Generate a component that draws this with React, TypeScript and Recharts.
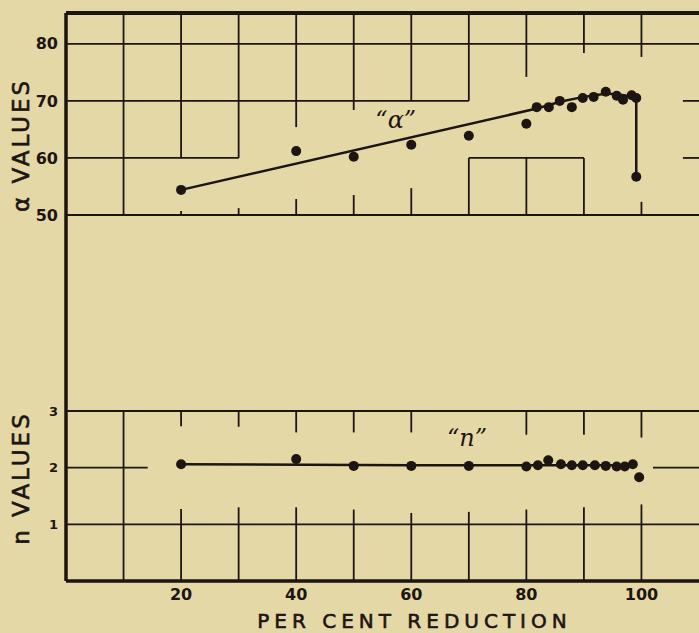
import React from 'react';
import { ComposedChart, Line, Scatter, XAxis, YAxis, ReferenceLine, ReferenceDot } from 'recharts';

const xTicks = [20, 40, 60, 80, 100];
const aTicks = [50, 60, 70, 80];
const nTicks = [1, 2, 3];

// measured "a" values (per cent reduction vs a)
const aPoints = [
  { x: 20, a: 54.4 }, { x: 40, a: 61.2 }, { x: 50, a: 60.2 }, { x: 60, a: 62.3 },
  { x: 70, a: 63.9 }, { x: 80, a: 66.0 }, { x: 81.8, a: 68.9 }, { x: 83.9, a: 68.9 },
  { x: 85.8, a: 70.0 }, { x: 87.9, a: 68.9 }, { x: 89.8, a: 70.5 }, { x: 91.7, a: 70.7 },
  { x: 93.8, a: 71.6 }, { x: 95.7, a: 70.9 }, { x: 96.8, a: 70.2 }, { x: 98.3, a: 71.0 },
  { x: 99.1, a: 70.5 }, { x: 99.1, a: 56.7 },
];

// drawn curve through the "a" values
const aCurve = [
  { x: 20, a: 54.4 }, { x: 82, a: 68.7 }, { x: 86, a: 69.9 }, { x: 90, a: 70.7 },
  { x: 94, a: 71.3 }, { x: 97, a: 71.0 }, { x: 99.1, a: 70.5 }, { x: 99.1, a: 56.7 },
];

// measured "n" values
const nPoints = [
  { x: 20, n: 2.06 }, { x: 40, n: 2.15 }, { x: 50, n: 2.03 }, { x: 60, n: 2.03 },
  { x: 70, n: 2.03 }, { x: 80, n: 2.02 }, { x: 82, n: 2.04 }, { x: 83.8, n: 2.13 },
  { x: 86, n: 2.06 }, { x: 87.9, n: 2.04 }, { x: 89.8, n: 2.04 }, { x: 91.9, n: 2.04 },
  { x: 93.8, n: 2.03 }, { x: 95.7, n: 2.02 }, { x: 97.1, n: 2.02 }, { x: 98.5, n: 2.06 },
  { x: 99.6, n: 1.83 },
];

const nCurve = [{ x: 20, n: 2.06 }, { x: 60, n: 2.04 }, { x: 98.5, n: 2.04 }];

// graph paper, broken lines: [value, from, to]
const aGridH = [[80, 0, 110], [70, 0, 70], [70, 107.2, 110], [60, 0, 30], [60, 70, 90], [60, 107.2, 110]];
const aGridV = [
  [10, 50, 85.4], [20, 60, 85.4], [20, 50, 50.7], [30, 60, 85.4], [30, 50, 51.2],
  [40, 65.4, 85.4], [40, 50, 52.8], [50, 68.4, 85.4], [50, 50, 53.5], [60, 70, 85.4],
  [60, 50, 54.7], [70, 70, 85.4], [70, 50, 60], [80, 74.2, 85.4], [80, 50, 60],
  [90, 78.4, 85.4], [90, 50, 60], [100, 77.7, 85.4], [100, 50, 52.3],
];
const nGridH = [[3, 0, 110], [2, 0, 14.2], [2, 102, 110], [1, 0, 110]];
const nGridV = [
  [10, 0, 3], [20, 2.73, 3], [20, 0, 1.27], [30, 2.72, 3], [30, 0, 1.3], [40, 2.62, 3],
  [40, 0, 1.3], [50, 2.62, 3], [50, 0, 1.26], [60, 2.62, 3], [60, 0, 1.2], [70, 0, 1.22],
  [80, 2.58, 3], [80, 0, 1.26], [90, 2.58, 3], [90, 0, 1.3], [100, 2.53, 3], [100, 0, 1.35],
];

const INK = '#1d1511';
const PAPER = '#e5d8a7';
const FONT = '"DejaVu Sans", sans-serif';
const titleStyle = { fontFamily: FONT, stroke: INK, strokeWidth: 0.6 };

const dot = (props: any) => <circle cx={props.cx} cy={props.cy} r={5} fill={INK} />;

export default function App() {
  return (
    <div style={{ position: 'absolute', left: 0, top: 0, width: 699, height: 633, background: PAPER, overflow: 'hidden' }}>
      <div style={{ position: 'absolute', left: 0, top: 0 }}>
        <ComposedChart width={699} height={633} margin={{ top: 215, right: 0, bottom: 0, left: 0 }}>
          <XAxis
            type="number"
            dataKey="x"
            domain={[0, 110]}
            ticks={xTicks}
            height={52}
            tickLine={false}
            axisLine={{ stroke: INK, strokeWidth: 3.5 }}
            tick={{ fill: INK, fontSize: 16, fontWeight: 700, fontFamily: FONT }}
            label={{ value: 'PER CENT REDUCTION', position: 'insideBottom', offset: 5, dx: 32, fill: INK, style: { ...titleStyle, fontSize: 20, letterSpacing: 5 } }}
          />
          <YAxis
            type="number"
            dataKey="n"
            domain={[0, 6.455]}
            ticks={nTicks}
            width={66}
            allowDataOverflow
            tickLine={false}
            axisLine={{ stroke: INK, strokeWidth: 3.5 }}
            tick={{ fill: INK, fontSize: 13, fontWeight: 700, fontFamily: FONT }}
            label={{ value: 'n  VALUES', angle: -90, position: 'center', dx: -12, dy: 80, fill: INK, style: { ...titleStyle, fontSize: 23, letterSpacing: 3 } }}
          />
          {nGridH.map(([v, a, b], i) => (
            <ReferenceLine key={'nh' + i} segment={[{ x: a, y: v }, { x: b, y: v }]} stroke={INK} strokeWidth={v === 3 ? 2 : 1.8} />
          ))}
          {nGridV.map(([v, a, b], i) => (
            <ReferenceLine key={'nv' + i} segment={[{ x: v, y: a }, { x: v, y: b }]} stroke={INK} strokeWidth={1.8} />
          ))}
          <ReferenceDot x={69.7} y={2.53} r={0} fill="none" stroke="none"
            label={{ value: '\u201Cn\u201D', position: 'center', fill: INK, style: { fontSize: 24, fontStyle: 'italic', fontFamily: '"DejaVu Serif", serif' } }} />
          <Line data={nCurve} dataKey="n" type="linear" stroke={INK} strokeWidth={2.5} dot={false} isAnimationActive={false} />
          <Scatter data={nPoints} dataKey="n" shape={dot} isAnimationActive={false} />
        </ComposedChart>
      </div>
      <div style={{ position: 'absolute', left: 0, top: 0 }}>
        <ComposedChart width={699} height={230} margin={{ top: 13, right: 0, bottom: 15, left: 0 }}>
          <XAxis type="number" dataKey="x" domain={[0, 110]} hide />
          <YAxis
            type="number"
            dataKey="a"
            domain={[50, 85.4]}
            ticks={aTicks}
            width={66}
            allowDataOverflow
            tickLine={false}
            axisLine={{ stroke: INK, strokeWidth: 3.5 }}
            tick={{ fill: INK, fontSize: 16, fontWeight: 700, fontFamily: FONT }}
            label={{ value: '\u03B1  VALUES', angle: -90, position: 'center', dx: -12, dy: 31, fill: INK, style: { ...titleStyle, fontSize: 23, letterSpacing: 3 } }}
          />
          <ReferenceLine y={85.4} stroke={INK} strokeWidth={4} />
          <ReferenceLine y={50} stroke={INK} strokeWidth={2} />
          {aGridH.map(([v, a, b], i) => (
            <ReferenceLine key={'ah' + i} segment={[{ x: a, y: v }, { x: b, y: v }]} stroke={INK} strokeWidth={1.8} />
          ))}
          {aGridV.map(([v, a, b], i) => (
            <ReferenceLine key={'av' + i} segment={[{ x: v, y: a }, { x: v, y: b }]} stroke={INK} strokeWidth={1.8} />
          ))}
          <ReferenceDot x={57.3} y={66.7} r={0} fill="none" stroke="none"
            label={{ value: '\u201C\u03B1\u201D', position: 'center', fill: INK, style: { fontSize: 24, fontStyle: 'italic', fontFamily: '"DejaVu Serif", serif' } }} />
          <Line data={aCurve} dataKey="a" type="linear" stroke={INK} strokeWidth={2.5} dot={false} isAnimationActive={false} />
          <Scatter data={aPoints} dataKey="a" shape={dot} isAnimationActive={false} />
        </ComposedChart>
      </div>
    </div>
  );
}
